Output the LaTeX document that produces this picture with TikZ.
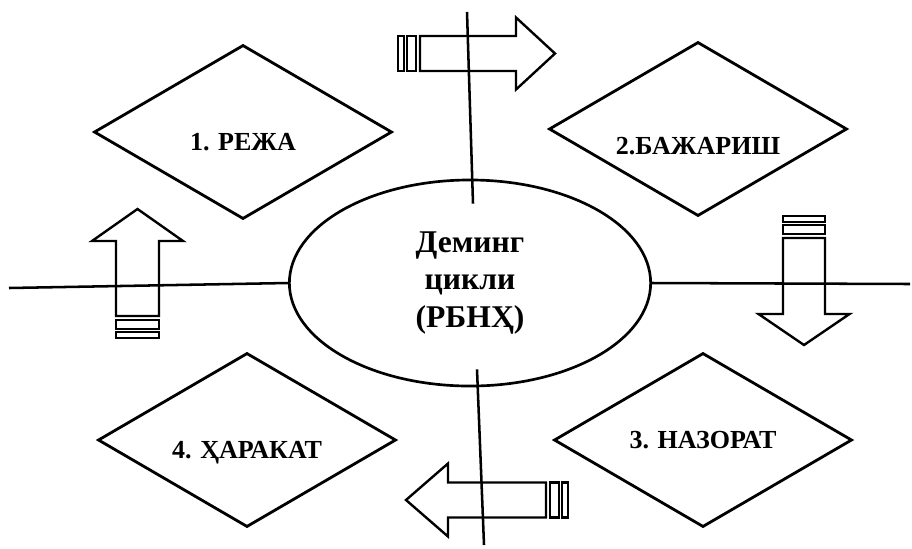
\documentclass[tikz,border=0pt]{standalone}
\usepackage{fontspec}
\setmainfont{Liberation Serif}
\usetikzlibrary{shapes.geometric, positioning}
\tikzset{
    phase/.style={diamond, draw, line width=2pt, aspect=1.71, minimum width=7.45cm, minimum height=4.35cm,
        inner sep=0pt, font=\fontsize{18.5}{22}\selectfont\bfseries}, % the four steps
    lowtext/.style={text height=#1, text depth=0pt}, % pushes a label a bit down
    deming/.style={ellipse, draw, line width=1.9pt, minimum width=9.03cm, minimum height=5.15cm,
        inner sep=0pt, align=center, font=\fontsize{22.5}{26.5}\selectfont\bfseries},
    axis/.style={line width=1.8pt},
    arrowline/.style={line width=1.7pt},
    % block arrow with two bars at its tail: #1 shaft, #2 half shaft, #3 head, #4 half head
    pics/stripedarrow/.style n args={4}{code={
        \draw[arrowline] (0,-#2) rectangle (6,#2);
        \draw[arrowline] (9,-#2) rectangle (18,#2);
        \draw[arrowline] (22,-#2) -- ({22+#1},-#2) -- ({22+#1},-#4) -- ({22+#1+#3},0)
            -- ({22+#1},#4) -- ({22+#1},#2) -- (22,#2) -- cycle;
    }},
}

\begin{document}
\begin{tikzpicture}[x=0.025cm, y=-0.025cm]
        \useasboundingbox (0,0) rectangle (912,548);

        % Nodes
        \node[deming] (deming) at (470,283) {Деминг\\цикли\\(РБНҲ)};
        \node[phase, lowtext=26pt] (plan) at (243,132) {1. РЕЖА};
        \node[phase, lowtext=36pt] (do) at (698,129) {2.БАЖАРИШ};
        \node[phase] (check) at (703,440) {3. НАЗОРАТ};
        \node[phase, lowtext=27pt] (act) at (247,440) {4. ҲАРАКАТ};

        % loose ends of the cross
        \coordinate (west end) at (9,288);
        \coordinate (east end) at (910,284);
        \coordinate (north end) at (467,12);
        \coordinate (south end) at (484,545);

        % Draw lines
        \draw[axis] (west end) -- (deming.west);
        \draw[axis] (deming.east) -- (east end);
        \draw[axis] (north end) -- ([shift={(3,25)}]deming.north);
        \draw[axis] ([shift={(7,-18)}]deming.south) -- (south end);

        % Arrows between the steps
        \pic at (398,53.5) {stripedarrow={96}{17.5}{39}{36}};
        \pic[rotate=-90] at (804,216) {stripedarrow={76}{21}{31}{45.5}};
        \pic[rotate=180] at (568,500) {stripedarrow={98}{17.5}{42}{36.5}};
        \pic[rotate=90] at (137.5,338) {stripedarrow={75}{21.5}{32}{45.5}};
    \end{tikzpicture}
\end{document}
